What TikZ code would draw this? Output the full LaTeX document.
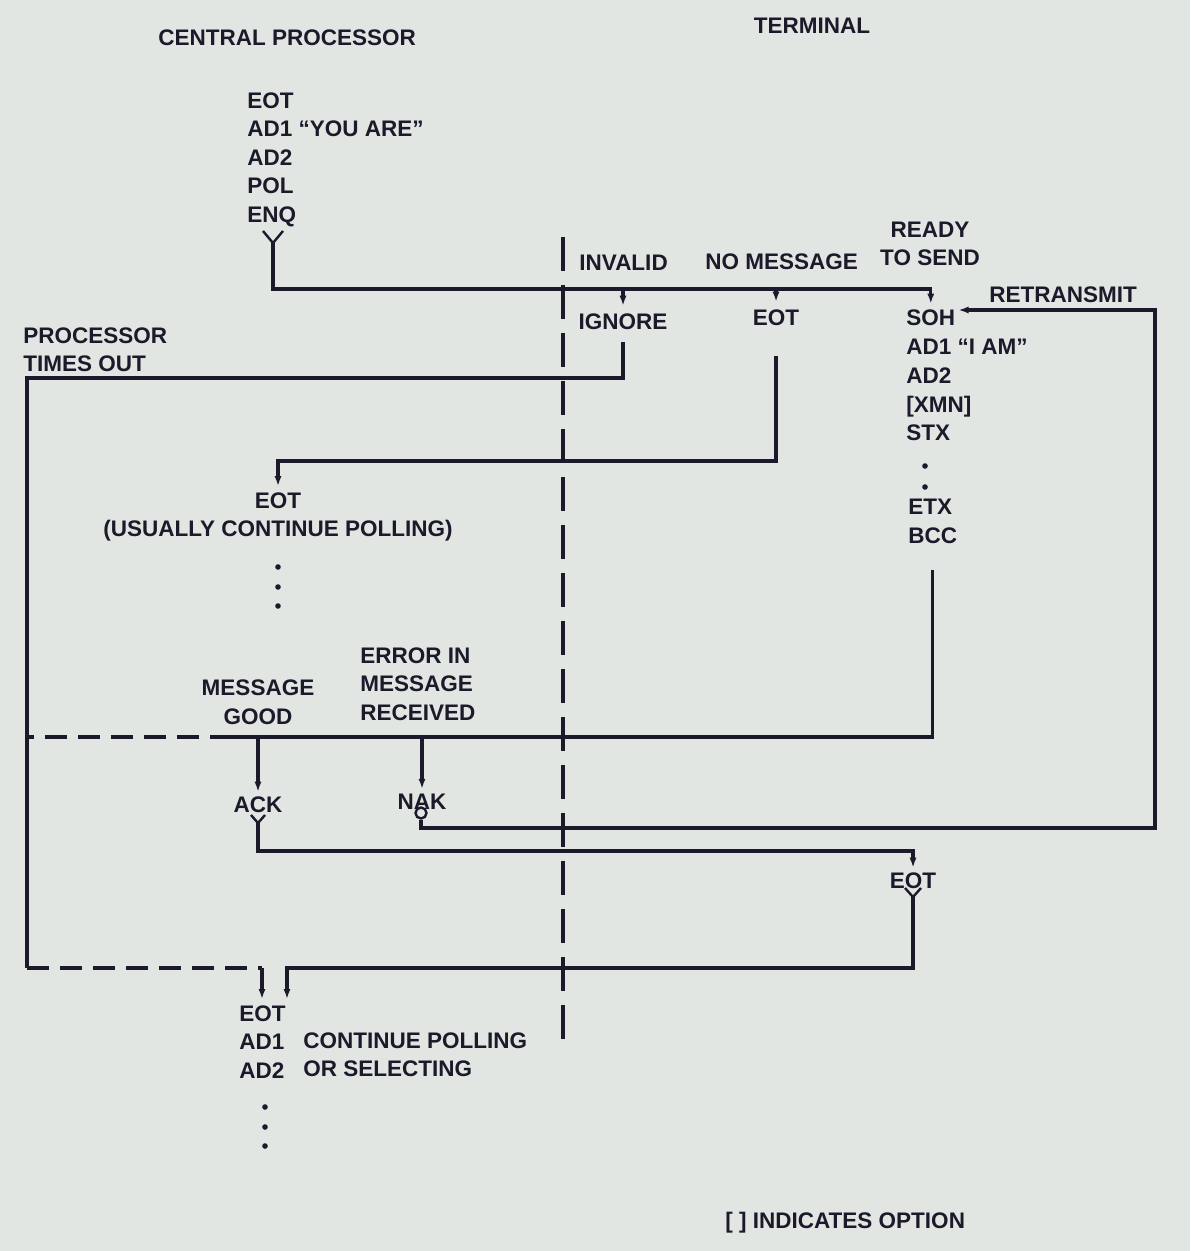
\documentclass[tikz,border=0pt]{standalone}
\usepackage{fontspec}
\setmainfont{Liberation Sans}
\usetikzlibrary{arrows.meta,calc}
\definecolor{ink}{RGB}{26,26,42}
\definecolor{paper}{RGB}{226,230,226}
\begin{document}
\begin{tikzpicture}[x=0.5pt,y=-0.5pt,
  txt/.style={font=\bfseries\fontsize{11.25}{14.3}\selectfont, text=ink, inner sep=0pt},
  stack/.style={txt, align=left, anchor=north west},
  wire/.style={draw=ink, line width=1.6pt},
  arr/.style={wire, -{Latex[length=5pt,width=3.6pt]}},
  brokenline/.style={wire, dash pattern=on 11pt off 5.5pt},
  divider/.style={draw=ink, line width=2pt, dash pattern=on 17pt off 7pt},
  fork/.style={draw=ink, line width=1.2pt},
  dotmark/.style={fill=ink}]
\fill[paper] (0,0) rectangle (1190,1251);
\useasboundingbox (0,0) rectangle (1190,1251);

% ---------- texts ----------
\node[txt, anchor=west] (cpt) at (158,38) {CENTRAL PROCESSOR};
\node[txt] (term) at (812,26) {TERMINAL};
\node[stack] (cp) at (247,92) {EOT\\AD1 “YOU ARE”\\AD2\\POL\\ENQ};

\node[txt, anchor=west] (inv) at (579,263) {INVALID};
\node[txt, anchor=west] (nomsg) at (705,262) {NO MESSAGE};
\node[txt, align=center] (ready) at (930,244) {READY\\TO SEND};
\node[txt, anchor=west] (retx) at (989,295) {RETRANSMIT};

\node[txt] (ign) at (623,322) {IGNORE};
\node[txt] (eot1) at (776,318) {EOT};
\node[txt, anchor=west] (soh) at (906,318) {SOH};
\node[stack] (sohrest) at (906,339) {AD1 “I AM”\\AD2\\{[XMN]}\\STX};
\node[stack] (etx) at (908,499) {ETX\\BCC};

\node[stack] (pto) at (23,327) {PROCESSOR\\TIMES OUT};
\node[txt, align=center] (eot2) at (278,517) {EOT\\(USUALLY CONTINUE POLLING)};

\node[txt, align=center] (mg) at (258,702) {MESSAGE\\GOOD};
\node[stack] (err) at (360,647) {ERROR IN\\MESSAGE\\RECEIVED};
\node[txt] (ack) at (258,805) {ACK};
\node[txt] (nak) at (422,802) {NAK};
\node[txt] (eot3) at (913,881) {EOT};

\node[stack] (eot4) at (239,1005) {EOT\\AD1\\AD2};
\node[stack] (cont) at (303,1032) {CONTINUE POLLING\\OR SELECTING};
\node[txt, anchor=west] (legend) at (725,1223) {[ ] INDICATES OPTION};

% ---------- dots ----------
\foreach \yy in {567,587,606} \fill[dotmark] (278,\yy) circle[radius=1.4pt];
\foreach \yy in {1107,1127,1146} \fill[dotmark] (265,\yy) circle[radius=1.4pt];
\foreach \yy in {466,487} \fill[dotmark] (925,\yy) circle[radius=1.4pt];

% ---------- divider ----------
\draw[divider] (563,237) -- (563,1048);

% ---------- poll ----------
\coordinate (enqY) at (273,243);
\draw[fork] ($(enqY)+(-10,-12)$) -- (enqY) -- ($(enqY)+(10,-12)$);
\coordinate (bus) at (273,289);
\draw[arr, shorten >=3pt] (enqY) |- (soh.north |- bus) -- (soh.north);
\draw[arr, shorten >=4pt] (ign.north |- bus) -- (ign.north);
\draw[arr, shorten >=4pt] (eot1.north |- bus) -- (eot1.north);

% ---------- no message ----------
\coordinate (nm) at (0,461);
\draw[arr, shorten <=15pt, shorten >=3pt] (eot1.south) |- (eot2.north |- nm) -- (eot2.north);

% ---------- processor times out ----------
\coordinate (tl) at (27,378);
\coordinate (bl) at (27,968);
\coordinate (in1) at (262,968);
\coordinate (in2) at (287,968);
\draw[wire, shorten <=6pt] (ign.south) |- (tl) -- (bl);
\draw[brokenline] (bl) -- (in1);
\draw[arr, shorten >=3pt] (in1) -- (in1 |- eot4.north);

% ---------- message received ----------
\coordinate (ml) at (27,737);
\coordinate (split) at (232,737);
\draw[wire, shorten <=13pt] (etx.south) |- (split);
\draw[brokenline] (split) -- (ml);
\draw[arr, shorten >=2.5pt] (ack.north |- ml) -- (ack.north);
\draw[arr, shorten >=2.5pt] (nak.north |- ml) -- (nak.north);

% ---------- NAK -> retransmit ----------
\node[circle, draw=ink, line width=1.2pt, inner sep=0pt, minimum size=5.5pt] (ring) at (421,813) {};
\coordinate (rt) at (1155,828);
\draw[arr, shorten >=1.5pt] (ring.south) |- (rt) |- ($(soh.east)+(0,-8)$);

% ---------- ACK -> EOT ----------
\coordinate (ackY) at (258,823);
\draw[fork] ($(ackY)+(-7,-8)$) -- (ackY) -- ($(ackY)+(7,-8)$);
\coordinate (al) at (0,851);
\draw[arr, shorten >=2.5pt] (ackY) |- (eot3.north |- al) -- (eot3.north);

% ---------- EOT -> EOT AD1 AD2 ----------
\coordinate (e3Y) at (913,897);
\draw[fork] ($(e3Y)+(-8,-9)$) -- (e3Y) -- ($(e3Y)+(8,-9)$);
\draw[arr, shorten >=3pt] (e3Y) |- (in2) -- (in2 |- eot4.north);
\end{tikzpicture}
\end{document}
